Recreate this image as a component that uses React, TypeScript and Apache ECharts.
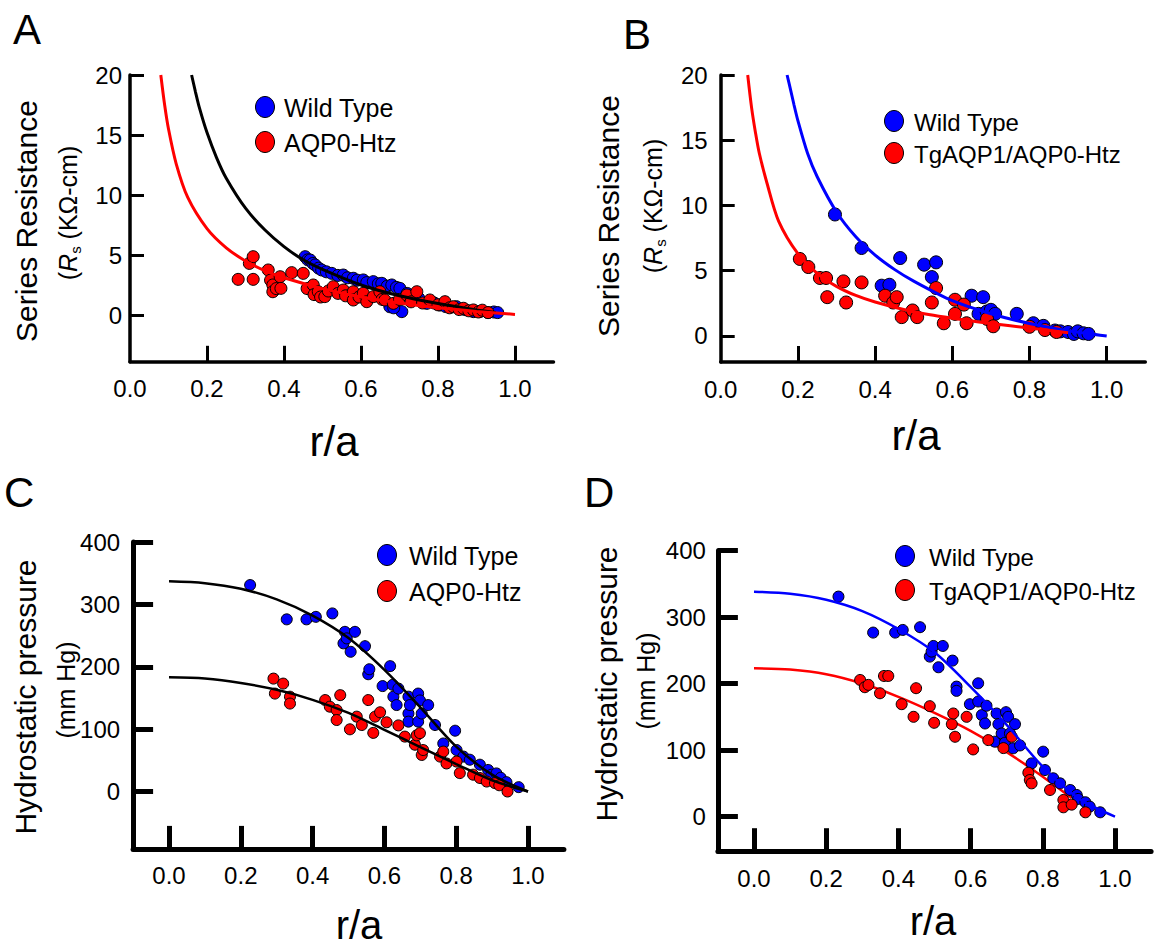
import React, { useEffect, useRef } from "react";
import * as echarts from "echarts";

const FONT = '"Liberation Sans", Arial, Helvetica, sans-serif';

// ---------- Panel A : Series resistance, Wild Type vs AQP0-Htz ----------
const aWildType = [
  [0.455, 4.86], [0.462, 4.6], [0.468, 4.58], [0.475, 4.3], [0.481, 4.17], [0.49, 3.9],
  [0.498, 3.75], [0.51, 3.6], [0.524, 3.47], [0.54, 3.3], [0.554, 3.33], [0.565, 3.1],
  [0.58, 3.06], [0.59, 2.9], [0.606, 2.92], [0.615, 2.7], [0.632, 2.78], [0.645, 2.6],
  [0.654, 2.64], [0.668, 2.4], [0.68, 2.5], [0.692, 2.3], [0.701, 2.22], [0.706, 0.28],
  [0.675, 0.69], [0.685, 0.6], [0.72, 1.8], [0.732, 1.53], [0.75, 1.4], [0.771, 0.97],
  [0.79, 1.0], [0.805, 0.83], [0.82, 0.7], [0.848, 0.69], [0.87, 0.45], [0.892, 0.28],
  [0.91, 0.3], [0.93, 0.2], [0.945, 0.25], [0.955, 0.2],
];
const aHtz = [
  [0.281, 2.97], [0.31, 4.3], [0.32, 4.86], [0.32, 2.97], [0.359, 3.75], [0.365, 2.9],
  [0.371, 2.5], [0.371, 1.94], [0.38, 2.2], [0.39, 3.19], [0.392, 2.22], [0.42, 3.53],
  [0.45, 3.47], [0.46, 2.2], [0.476, 2.5], [0.478, 1.7], [0.489, 1.94], [0.495, 1.5],
  [0.506, 1.53], [0.515, 2.0], [0.528, 2.36], [0.54, 1.8], [0.554, 2.08], [0.56, 1.6],
  [0.58, 1.94], [0.58, 1.25], [0.595, 1.5], [0.606, 1.81], [0.615, 1.11], [0.632, 1.53],
  [0.649, 1.94], [0.655, 1.3], [0.662, 1.25], [0.684, 0.97], [0.7, 1.3], [0.719, 1.67],
  [0.73, 1.1], [0.745, 1.94], [0.76, 1.0], [0.779, 1.25], [0.8, 0.85], [0.818, 1.11],
  [0.83, 0.6], [0.84, 0.69], [0.855, 0.45], [0.866, 0.56], [0.88, 0.35], [0.892, 0.42],
  [0.905, 0.25], [0.915, 0.4], [0.93, 0.2],
];
const aWildTypeFit = [
  [0.16, 20], [0.17, 18.6], [0.18, 17.3], [0.2, 15.2], [0.225, 13.1], [0.25, 11.4],
  [0.3, 8.9], [0.35, 7.1], [0.4, 5.7], [0.45, 4.6], [0.5, 3.8], [0.6, 2.5], [0.7, 1.6],
  [0.8, 0.95], [0.9, 0.42], [0.95, 0.2],
];
const aHtzFit = [
  [0.08, 20], [0.09, 17.5], [0.1, 15.5], [0.12, 12.6], [0.15, 9.8], [0.2, 7.2],
  [0.25, 5.6], [0.3, 4.5], [0.35, 3.7], [0.4, 3.1], [0.5, 2.2], [0.6, 1.5], [0.7, 1.0],
  [0.8, 0.6], [0.9, 0.3], [1.0, 0.05],
];

// ---------- Panel B : Series resistance, Wild Type vs TgAQP1/AQP0-Htz ----------
const bWildType = [
  [0.296, 9.31], [0.365, 6.74], [0.417, 3.85], [0.437, 3.92], [0.465, 5.97], [0.527, 5.46],
  [0.547, 4.51], [0.558, 5.64], [0.65, 3.08], [0.668, 1.69], [0.68, 2.97], [0.689, 1.87],
  [0.7, 2.0], [0.711, 1.69], [0.767, 1.69], [0.81, 0.97], [0.836, 0.77], [0.866, 0.41],
  [0.88, 0.35], [0.9, 0.3], [0.915, 0.15], [0.925, 0.35], [0.94, 0.2], [0.953, 0.15],
];
const bHtz = [
  [0.205, 5.9], [0.227, 5.28], [0.257, 4.44], [0.273, 4.44], [0.276, 2.97], [0.318, 4.18],
  [0.325, 2.56], [0.365, 4.1], [0.426, 3.08], [0.447, 2.56], [0.456, 2.97], [0.469, 1.44],
  [0.497, 1.95], [0.509, 1.44], [0.547, 2.56], [0.558, 3.67], [0.578, 0.97], [0.607, 2.77],
  [0.607, 1.69], [0.63, 2.4], [0.637, 0.97], [0.69, 1.3], [0.706, 0.74], [0.8, 0.7],
  [0.84, 0.45], [0.87, 0.3],
];
const bWildTypeFit = [
  [0.172, 20], [0.18, 19.0], [0.19, 17.7], [0.2, 16.5], [0.225, 14.0], [0.25, 12.2],
  [0.3, 9.5], [0.35, 7.6], [0.4, 6.2], [0.45, 5.1], [0.5, 4.2], [0.6, 2.7], [0.7, 1.7],
  [0.8, 0.95], [0.9, 0.4], [1.0, 0.0],
];
const bHtzFit = [
  [0.07, 20], [0.08, 17.5], [0.09, 15.6], [0.1, 14.0], [0.12, 11.7], [0.15, 8.8],
  [0.2, 6.3], [0.25, 4.8], [0.3, 3.8], [0.35, 3.1], [0.4, 2.6], [0.5, 1.85], [0.6, 1.35],
  [0.7, 0.95], [0.8, 0.6], [0.9, 0.25],
];

// ---------- Panel C : Hydrostatic pressure, Wild Type vs AQP0-Htz ----------
const cWildType = [
  [0.226, 331], [0.328, 276], [0.383, 276], [0.409, 280], [0.455, 285.5], [0.486, 237.5],
  [0.49, 256], [0.495, 245.5], [0.506, 224], [0.518, 256], [0.546, 233], [0.555, 188],
  [0.558, 196], [0.595, 169], [0.616, 201], [0.623, 171], [0.625, 152], [0.634, 138.6],
  [0.639, 165], [0.667, 152], [0.667, 125], [0.667, 112], [0.671, 138.6], [0.694, 157],
  [0.694, 112], [0.699, 146], [0.704, 125], [0.722, 138.6], [0.741, 106.6], [0.764, 77],
  [0.797, 97.5], [0.801, 66.5], [0.82, 56], [0.838, 51], [0.866, 43], [0.889, 34.6],
  [0.898, 27], [0.912, 29], [0.924, 22], [0.94, 15], [0.974, 7],
];
const cHtz = [
  [0.291, 181], [0.295, 157], [0.318, 173], [0.337, 152], [0.337, 141], [0.435, 146.6],
  [0.448, 136], [0.467, 130.6], [0.467, 114.6], [0.477, 154.5], [0.504, 99.7], [0.523, 120],
  [0.537, 106.6], [0.555, 146.6], [0.569, 94], [0.574, 120], [0.588, 127], [0.606, 111],
  [0.639, 106], [0.657, 88], [0.685, 75], [0.69, 90], [0.699, 93.6], [0.704, 58.6],
  [0.708, 66.5], [0.755, 56], [0.764, 64], [0.773, 45], [0.801, 48], [0.81, 29.5],
  [0.847, 27], [0.866, 21.6], [0.885, 16], [0.908, 13.4], [0.92, 10], [0.943, 0],
];
const cWildTypeFit = [
  [0, 337], [0.1, 334], [0.2, 325], [0.3, 308], [0.4, 282], [0.5, 246], [0.6, 195],
  [0.7, 135], [0.8, 72], [0.9, 27], [1.0, 0],
];
const cHtzFit = [
  [0, 183], [0.1, 181], [0.2, 174], [0.3, 163], [0.4, 147], [0.5, 126], [0.6, 99],
  [0.7, 71], [0.8, 44], [0.9, 18], [1.0, 0],
];

// ---------- Panel D : Hydrostatic pressure, Wild Type vs TgAQP1/AQP0-Htz ----------
const dWildType = [
  [0.234, 330.7], [0.33, 276.6], [0.391, 276.6], [0.412, 280.6], [0.46, 284.7], [0.487, 240.5],
  [0.492, 248], [0.497, 256.5], [0.511, 224.5], [0.523, 256.5], [0.55, 234.5], [0.561, 195.4],
  [0.561, 189], [0.598, 169], [0.621, 200.4], [0.621, 173], [0.631, 152.6], [0.64, 140],
  [0.644, 166.6], [0.667, 112.6], [0.672, 155], [0.677, 139], [0.686, 125], [0.695, 111],
  [0.698, 157], [0.704, 150], [0.709, 125], [0.718, 102.7], [0.723, 139], [0.737, 107],
  [0.769, 80], [0.801, 97.6], [0.806, 70], [0.829, 57.6], [0.848, 50], [0.876, 40],
  [0.894, 32.5], [0.898, 26.6], [0.918, 21.6], [0.93, 15], [0.959, 6.5],
];
const dHtz = [
  [0.294, 205.4], [0.307, 194.5], [0.317, 198], [0.349, 185.4], [0.36, 211.4], [0.372, 211.4],
  [0.409, 169], [0.442, 150], [0.449, 193], [0.487, 166], [0.499, 141], [0.548, 139],
  [0.552, 155], [0.557, 120], [0.589, 150], [0.607, 101], [0.649, 115], [0.691, 103],
  [0.714, 120], [0.76, 66], [0.764, 55], [0.769, 50], [0.82, 40], [0.857, 25], [0.857, 14],
  [0.88, 18], [0.918, 6.5],
];
const dWildTypeFit = [
  [0, 338], [0.1, 335], [0.2, 326], [0.3, 309], [0.4, 282], [0.5, 247], [0.6, 195],
  [0.7, 138], [0.8, 75], [0.9, 27], [1.0, 0],
];
const dHtzFit = [
  [0, 223], [0.1, 221], [0.2, 214], [0.3, 200], [0.4, 180], [0.5, 156], [0.6, 129],
  [0.7, 97], [0.8, 60], [0.88, 28],
];

// ---------- ticks / labels ----------
const rTickLabels = [0, 0.2, 0.4, 0.6, 0.8, 1.0];
const rTicksAB = [0.2, 0.4, 0.6, 0.8, 1.0];
const rsTicks = [0, 5, 10, 15, 20];
const hpTicks = [0, 100, 200, 300, 400];
const legendNames = ["Wild Type", "AQP0-Htz", "TgAQP1/AQP0-Htz"];

const BLUE = "#0000ff";
const RED = "#ff0000";
const BLACK = "#000000";

type PanelGeom = {
  left: number; top: number; width: number; height: number;
  xMin: number; xMax: number; yMin: number; yMax: number;
  xTicks: number[]; yTicks: number[];
  axisW: number; tickW: number; xTickLen: number; yTickLen: number;
  xLabelMargin: number; yLabelMargin: number;
};

const panels: PanelGeom[] = [
  { left: 130, top: 75, width: 423.5, height: 286.8, xMin: 0, xMax: 1.1, yMin: -3.9, yMax: 20,
    xTicks: rTicksAB, yTicks: rsTicks, axisW: 3.5, tickW: 3, xTickLen: 16, yTickLen: 14,
    xLabelMargin: 15, yLabelMargin: 8 },
  { left: 720.7, top: 75, width: 424.6, height: 287, xMin: 0, xMax: 1.1, yMin: -2, yMax: 20,
    xTicks: rTicksAB, yTicks: rsTicks, axisW: 3.5, tickW: 3, xTickLen: 16, yTickLen: 14,
    xLabelMargin: 15, yLabelMargin: 13 },
  { left: 133.1, top: 542, width: 430.8, height: 306.9, xMin: -0.1, xMax: 1.1, yMin: -92, yMax: 400,
    xTicks: rTickLabels, yTicks: hpTicks, axisW: 5, tickW: 5, xTickLen: 23, yTickLen: 20,
    xLabelMargin: 15, yLabelMargin: 13 },
  { left: 717.9, top: 550.5, width: 433.2, height: 300.7, xMin: -0.1, xMax: 1.1, yMin: -52, yMax: 400,
    xTicks: rTickLabels, yTicks: hpTicks, axisW: 5, tickW: 5, xTickLen: 23, yTickLen: 20,
    xLabelMargin: 15, yLabelMargin: 12 },
];

function buildOption() {
  const grid = panels.map((p) => ({ left: p.left, top: p.top, width: p.width, height: p.height }));
  const xAxis = panels.map((p, i) => ({
    type: "value", gridIndex: i, min: p.xMin, max: p.xMax,
    axisLine: { show: true, onZero: false, lineStyle: { color: BLACK, width: p.axisW } },
    axisTick: { show: true, inside: true, length: p.xTickLen, customValues: p.xTicks,
      lineStyle: { color: BLACK, width: p.tickW } },
    axisLabel: { show: true, customValues: rTickLabels, margin: p.xLabelMargin,
      formatter: (v: number) => v.toFixed(1), color: BLACK, fontSize: 24, fontFamily: FONT },
    splitLine: { show: false },
  }));
  const yAxis = panels.map((p, i) => ({
    type: "value", gridIndex: i, min: p.yMin, max: p.yMax,
    axisLine: { show: true, onZero: false, lineStyle: { color: BLACK, width: p.axisW } },
    axisTick: { show: true, inside: true, length: p.yTickLen, customValues: p.yTicks,
      lineStyle: { color: BLACK, width: p.tickW } },
    axisLabel: { show: true, customValues: p.yTicks, margin: p.yLabelMargin,
      formatter: (v: number) => String(v), color: BLACK, fontSize: 24, fontFamily: FONT },
    splitLine: { show: false },
  }));

  const scatter = (data: number[][], idx: number, color: string, size: number) => ({
    type: "scatter", xAxisIndex: idx, yAxisIndex: idx, data, symbol: "circle", symbolSize: size,
    itemStyle: { color, borderColor: BLACK, borderWidth: 1, opacity: 1 }, z: 3, silent: true,
  });
  const fit = (data: number[][], idx: number, color: string, width: number, z = 4) => ({
    type: "line", xAxisIndex: idx, yAxisIndex: idx, data, smooth: 0.3,
    showSymbol: false, symbol: "none", lineStyle: { color, width }, z, silent: true,
  });

  const series = [
    scatter(aWildType, 0, BLUE, 12), scatter(aHtz, 0, RED, 12),
    fit(aWildTypeFit, 0, BLACK, 3), fit(aHtzFit, 0, RED, 3),
    scatter(bWildType, 1, BLUE, 13), scatter(bHtz, 1, RED, 13),
    fit(bWildTypeFit, 1, BLUE, 3), fit(bHtzFit, 1, RED, 3),
    scatter(cWildType, 2, BLUE, 11), scatter(cHtz, 2, RED, 11),
    fit(cWildTypeFit, 2, BLACK, 2.5), fit(cHtzFit, 2, BLACK, 2.5),
    scatter(dWildType, 3, BLUE, 11), scatter(dHtz, 3, RED, 11),
    fit(dWildTypeFit, 3, BLUE, 2.5), fit(dHtzFit, 3, RED, 2.5, 2),
  ];

  const txt = (text: string, x: number, y: number, size: number, extra: any = {}) => ({
    type: "text", x, y, silent: true,
    style: { text, fontSize: size, fontFamily: FONT, fill: BLACK, align: "left", verticalAlign: "middle", ...extra.style },
  });
  const vtxt = (text: string, x: number, y: number, size: number, rich?: any) => ({
    type: "text", x, y, rotation: Math.PI / 2, silent: true,
    style: { text, fontSize: size, fontFamily: FONT, fill: BLACK, align: "center", verticalAlign: "middle",
      ...(rich ? { rich } : {}) },
  });
  const rsRich = {
    i: { fontStyle: "italic", fontSize: 25, fontFamily: FONT, fill: BLACK, lineHeight: 30 },
    s: { fontSize: 15, fontFamily: FONT, fill: BLACK, lineHeight: 15, verticalAlign: "bottom" },
    n: { fontSize: 25, fontFamily: FONT, fill: BLACK, lineHeight: 30 },
  };
  const rsName = "{n|(}{i|R}{s|s}{n| (KΩ-cm)}";
  const marker = (cx: number, cy: number, fill: string) => ({
    type: "ellipse", silent: true, shape: { cx, cy, rx: 9.5, ry: 10.5 },
    style: { fill, stroke: BLACK, lineWidth: 1 },
  });

  const graphic = [
    // panel letters
    txt("A", 13, 29, 42), txt("B", 623, 34, 42), txt("C", 4, 492, 42), txt("D", 584, 492, 42),
    // y titles
    vtxt("Series Resistance", 26, 221, 30), vtxt(rsName, 68, 213, 25, rsRich),
    vtxt("Series Resistance", 608, 216, 30), vtxt(rsName, 653, 206, 25, rsRich),
    vtxt("Hydrostatic pressure", 25, 697, 30), vtxt("(mm Hg)", 66, 690, 25),
    vtxt("Hydrostatic pressure", 606, 684, 30), vtxt("(mm Hg)", 646, 681, 25),
    // x titles
    txt("r/a", 334, 441, 42, { style: { align: "center" } }),
    txt("r/a", 916, 435, 42, { style: { align: "center" } }),
    txt("r/a", 359, 925, 40, { style: { align: "center" } }),
    txt("r/a", 933, 921, 40, { style: { align: "center" } }),
    // legends
    marker(265, 107, BLUE), txt(legendNames[0], 284, 108, 25),
    marker(265, 142, RED), txt(legendNames[1], 284, 143, 25),
    marker(894, 121, BLUE), txt(legendNames[0], 914, 122, 24),
    marker(894, 153, RED), txt(legendNames[2], 914, 154, 24),
    marker(387, 555, BLUE), txt(legendNames[0], 409, 556, 25),
    marker(387, 591, RED), txt(legendNames[1], 409, 592, 25),
    marker(905, 556, BLUE), txt(legendNames[0], 929, 557, 24),
    marker(905, 590, RED), txt(legendNames[2], 929, 591, 24),
  ];

  return { animation: false, backgroundColor: "#ffffff", grid, xAxis, yAxis, series, graphic };
}

export default function App() {
  const ref = useRef<HTMLDivElement>(null);
  useEffect(() => {
    if (!ref.current) return;
    const chart = echarts.init(ref.current, null, { renderer: "svg" });
    chart.setOption(buildOption() as any);
    return () => chart.dispose();
  }, []);
  return (
    <div
      ref={ref}
      style={{ position: "absolute", left: 0, top: 0, width: 1162, height: 948, background: "#fff" }}
    />
  );
}
